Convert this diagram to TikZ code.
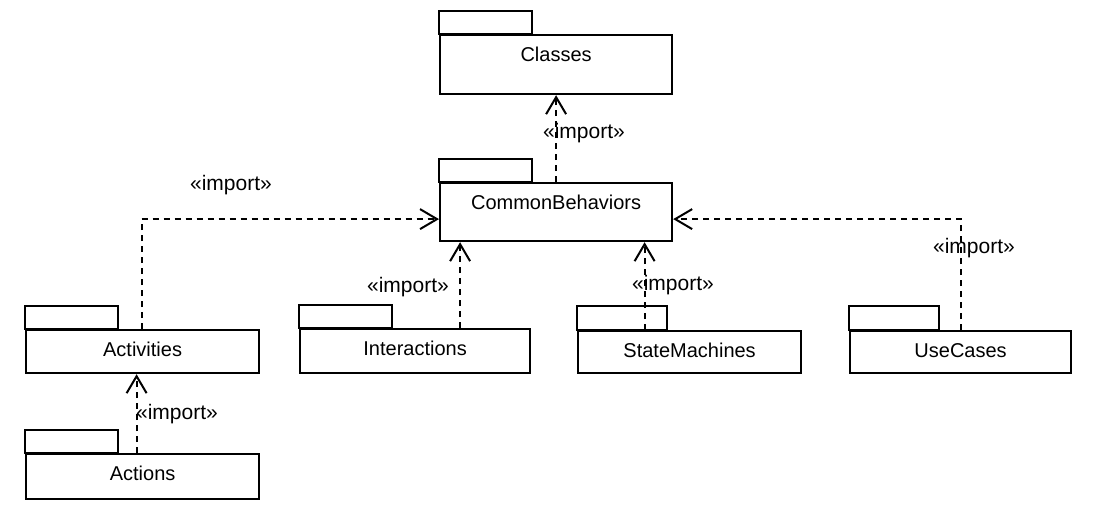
\documentclass[tikz,border=0pt]{standalone}
\usepackage{fontspec}
\setmainfont{Liberation Sans}
\usetikzlibrary{arrows.meta}

\begin{document}
\begin{tikzpicture}[
  x=1pt,y=-1pt,
  pkg/.style={draw,line width=2.2pt,inner sep=0pt,anchor=north west,text height=26pt,text depth=17pt,font=\fontsize{20}{24}\selectfont},
  tab/.style={draw,line width=2.2pt},
  stereo/.style={inner sep=1pt,font=\fontsize{21}{24}\selectfont},
  dep/.style={-{Straight Barb[length=17pt,width=20pt,line width=2pt]},line width=2pt,dash pattern=on 6pt off 5pt}
]
\path[fill=white] (0,0) rectangle (1113,507);

% packages
\node[pkg,minimum width=232pt,text depth=33pt] (classes) at (439,34) {Classes};
\node[pkg,minimum width=232pt,text depth=32pt] (common) at (439,182) {CommonBehaviors};
\node[pkg,minimum width=233pt] (activities) at (25,329) {Activities};
\node[pkg,minimum width=233pt,text depth=19pt] (actions) at (25,453) {Actions};
\node[pkg,minimum width=230pt,text depth=18pt] (interactions) at (299,328) {Interactions};
\node[pkg,minimum width=223pt,text depth=16pt] (statemachines) at (577,330) {StateMachines};
\node[pkg,minimum width=221pt,text depth=16pt] (usecases) at (849,330) {UseCases};
\foreach \n in {classes,common,activities,actions,interactions}
  \draw[tab] (\n.north west) rectangle ++(93,-23);
\foreach \n in {statemachines,usecases}
  \draw[tab] (\n.north west) rectangle ++(90,-24);

% dependencies
\draw[dep] (common) -- (classes);
\draw[dep] ([xshift=-1pt]activities.north) |- ([yshift=-7pt]common.west);
\draw[dep] ([xshift=45pt]interactions.north) -- ([xshift=45pt]interactions.north |- common.south);
\draw[dep] ([xshift=-45pt]statemachines.north) -- ([xshift=-45pt]statemachines.north |- common.south);
\draw[dep] ([xshift=0.5pt]usecases.north) |- ([yshift=-7pt]common.east);
\draw[dep] ([xshift=-6pt]actions.north) -- ([xshift=-6pt]activities.south);

% stereotypes
\node[stereo] (imp1) at (584,133) {«import»};
\node[stereo] (imp2) at (231,185) {«import»};
\node[stereo] (imp3) at (408,287) {«import»};
\node[stereo] (imp4) at (673,285) {«import»};
\node[stereo] (imp5) at (974,248) {«import»};
\node[stereo] (imp6) at (177,414) {«import»};
\end{tikzpicture}
\end{document}
